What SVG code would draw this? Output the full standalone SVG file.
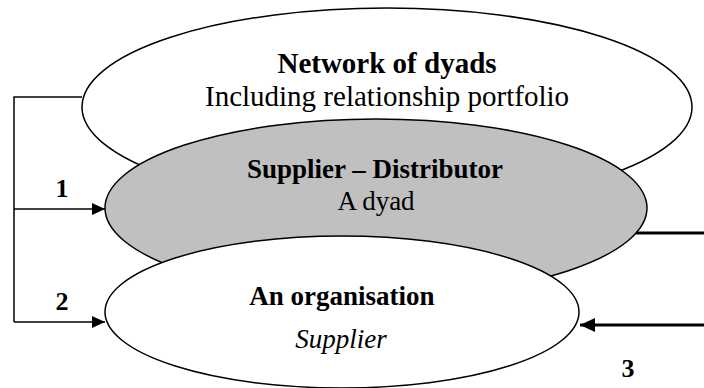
<svg xmlns="http://www.w3.org/2000/svg" width="704" height="388" viewBox="0 0 704 388">
<defs>
<style>
.ell{stroke:#000;stroke-width:1.5}
.t{font-family:"Liberation Serif","Times New Roman",serif;fill:#000;text-anchor:middle}
.b{font-weight:bold}
.i{font-style:italic}
.thin{fill:none;stroke:#000;stroke-width:1.5}
.thick{fill:none;stroke:#000;stroke-width:3}
</style>
<marker id="ah" markerUnits="userSpaceOnUse" markerWidth="14" markerHeight="14" refX="13" refY="6" orient="auto">
<path d="M0,0 L13,6 L0,12 Z" fill="#000"/>
</marker>
<marker id="ahb" markerUnits="userSpaceOnUse" markerWidth="16" markerHeight="16" refX="15" refY="7" orient="auto">
<path d="M0,0 L15,7 L0,14 Z" fill="#000"/>
</marker>
</defs>
<rect width="704" height="388" fill="#fff"/>
<g id="network">
<ellipse class="ell" cx="387" cy="107" rx="305" ry="99" fill="#fff"/>
<text class="t b" x="387" y="73" font-size="29">Network of dyads</text>
<text class="t" x="387" y="106" font-size="29">Including relationship portfolio</text>
</g>
<g id="dyad">
<ellipse class="ell" cx="376" cy="208" rx="271" ry="89" fill="#c0c0c0"/>
<text class="t b" x="375" y="178" font-size="27">Supplier – Distributor</text>
<text class="t" x="376" y="210" font-size="27">A dyad</text>
</g>
<g id="organisation">
<ellipse class="ell" cx="342" cy="312" rx="237" ry="76" fill="#fff"/>
<text class="t b" x="342" y="305" font-size="27">An organisation</text>
<text class="t i" x="341" y="348" font-size="27">Supplier</text>
</g>
<g id="connectors">
<polyline class="thin" points="82,97 14,97 14,322"/>
<line class="thin" x1="14" y1="209" x2="105" y2="209" marker-end="url(#ah)"/>
<line class="thin" x1="14" y1="322" x2="105" y2="322" marker-end="url(#ah)"/>
<line class="thick" x1="636" y1="233" x2="704" y2="233"/>
<line class="thick" x1="704" y1="325" x2="580" y2="325" marker-end="url(#ahb)"/>
</g>
<g id="labels">
<text class="t b" x="62" y="197" font-size="26">1</text>
<text class="t b" x="62" y="310" font-size="26">2</text>
<text class="t b" x="628" y="377" font-size="26">3</text>
</g>
</svg>
